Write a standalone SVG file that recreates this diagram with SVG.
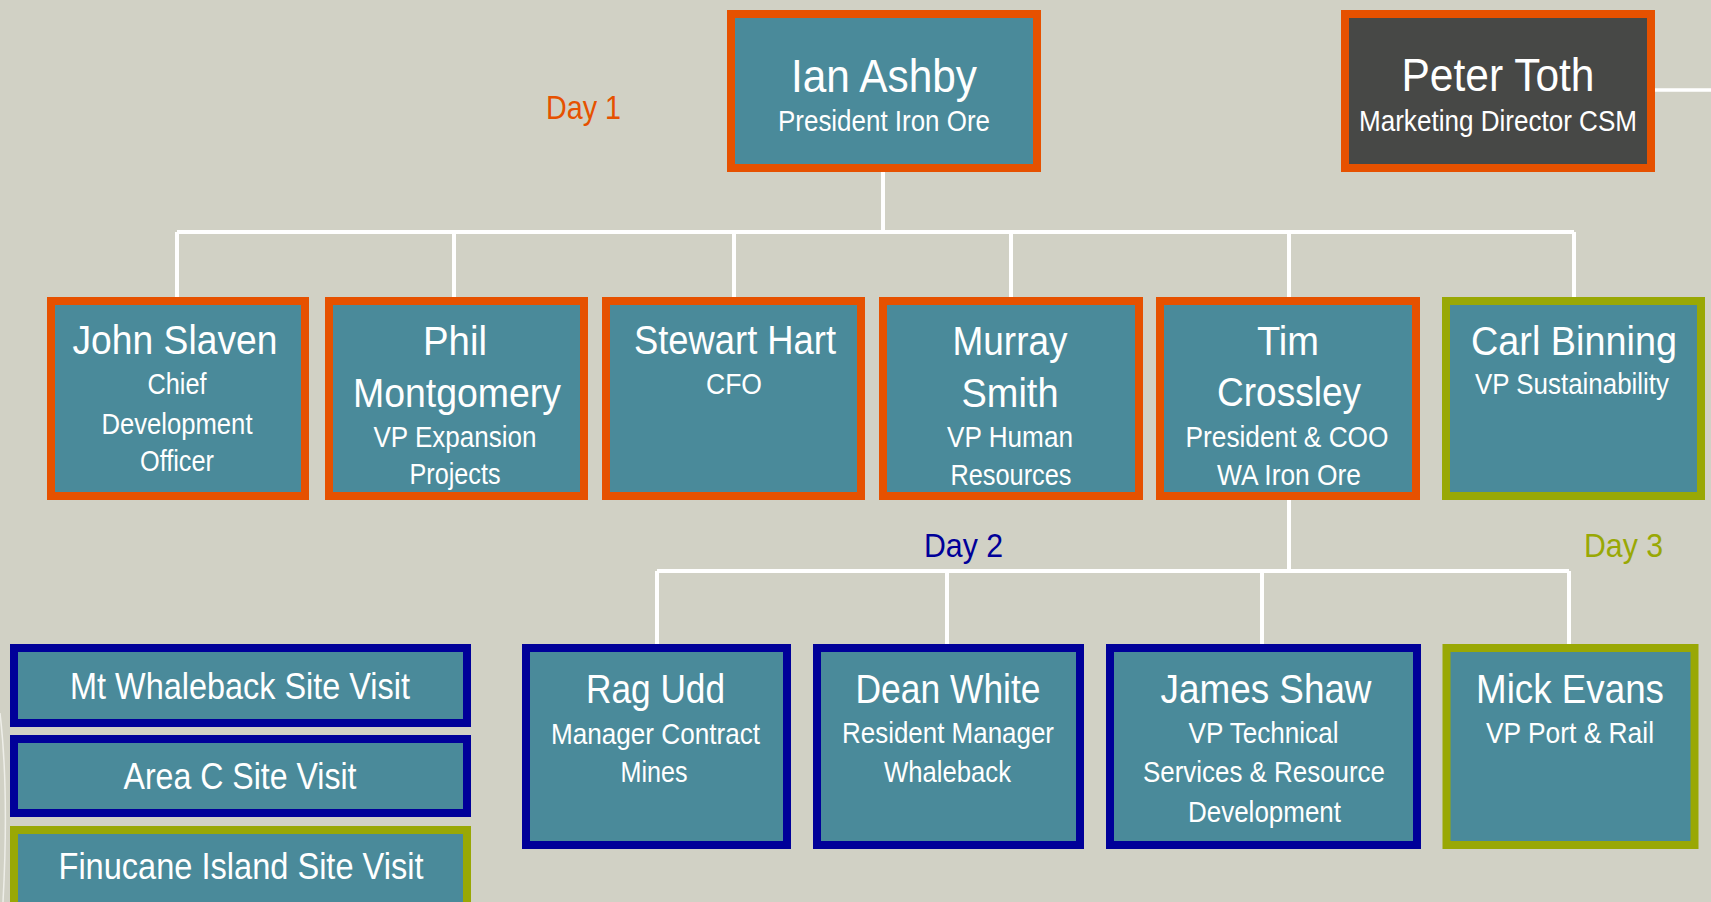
<svg xmlns="http://www.w3.org/2000/svg" width="1711" height="902" viewBox="0 0 1711 902">
<style>
.bg{fill:#D1D1C5}
.box{fill:#4A8A9A;stroke-width:8}
.o{stroke:#E65100}
.n{stroke:#000099}
.g{stroke:#99A805}
.dk{fill:#474846;stroke:#E65100;stroke-width:8}
text{font-family:"Liberation Sans",Arial,sans-serif;fill:#FFFFFF;text-anchor:middle}
.nm{font-size:41px}
.big{font-size:47px}
.sb{font-size:29px}
.sv{font-size:36px}
.day{font-size:34px;text-anchor:start}
.wire{stroke:#FFFFFF;stroke-width:4;fill:none}
</style>
<rect class="bg" x="0" y="0" width="1711" height="902"/>
<g id="connectors">
<path class="wire" d="M883,172 V232 M177,232 H1574 M177,232 V298 M454,232 V298 M734,232 V298 M1011,232 V298 M1289,232 V298 M1574,232 V298"/>
<path class="wire" d="M1289,500 V571 M657,571 H1569 M657,571 V645 M947,571 V645 M1262,571 V645 M1569,571 V645"/>
<path class="wire" style="stroke-width:3.5" d="M1655,90 H1711"/>
<path d="M0,713 Q9,790 3,902" stroke="#EEEEE8" stroke-width="1.5" fill="none"/>
</g>
<g id="day-labels">
<text class="day" x="546" y="119" fill="#E65100" style="fill:#E65100" textLength="75" lengthAdjust="spacingAndGlyphs">Day 1</text>
<text class="day" x="924" y="557" style="fill:#000099" textLength="79" lengthAdjust="spacingAndGlyphs">Day 2</text>
<text class="day" x="1584" y="557" style="fill:#99A805" textLength="79" lengthAdjust="spacingAndGlyphs">Day 3</text>
</g>
<g id="ian-ashby">
<rect class="box o" x="731" y="14" width="306" height="154"/>
<text class="big" x="884" y="92" textLength="186" lengthAdjust="spacingAndGlyphs">Ian Ashby</text>
<text class="sb" x="884" y="131" textLength="212" lengthAdjust="spacingAndGlyphs">President Iron Ore</text>
</g>
<g id="peter-toth">
<rect class="dk" x="1345" y="14" width="306" height="154"/>
<text class="big" x="1498" y="91" textLength="193" lengthAdjust="spacingAndGlyphs">Peter Toth</text>
<text class="sb" x="1498" y="131" textLength="278" lengthAdjust="spacingAndGlyphs">Marketing Director CSM</text>
</g>
<g id="john-slaven">
<rect class="box o" x="51" y="301" width="254" height="195"/>
<text class="nm" x="175" y="354" textLength="205" lengthAdjust="spacingAndGlyphs">John Slaven</text>
<text class="sb" x="177" y="394" textLength="59" lengthAdjust="spacingAndGlyphs">Chief</text>
<text class="sb" x="177" y="434" textLength="151" lengthAdjust="spacingAndGlyphs">Development</text>
<text class="sb" x="177" y="471" textLength="74" lengthAdjust="spacingAndGlyphs">Officer</text>
</g>
<g id="phil-montgomery">
<rect class="box o" x="329" y="301" width="255" height="195"/>
<text class="nm" x="455" y="355" textLength="64" lengthAdjust="spacingAndGlyphs">Phil</text>
<text class="nm" x="457" y="407" textLength="208" lengthAdjust="spacingAndGlyphs">Montgomery</text>
<text class="sb" x="455" y="447" textLength="163" lengthAdjust="spacingAndGlyphs">VP Expansion</text>
<text class="sb" x="455" y="484" textLength="91" lengthAdjust="spacingAndGlyphs">Projects</text>
</g>
<g id="stewart-hart">
<rect class="box o" x="606" y="301" width="255" height="195"/>
<text class="nm" x="735" y="354" textLength="202" lengthAdjust="spacingAndGlyphs">Stewart Hart</text>
<text class="sb" x="734" y="394" textLength="56" lengthAdjust="spacingAndGlyphs">CFO</text>
</g>
<g id="murray-smith">
<rect class="box o" x="883" y="301" width="256" height="195"/>
<text class="nm" x="1010" y="355" textLength="115" lengthAdjust="spacingAndGlyphs">Murray</text>
<text class="nm" x="1010" y="407" textLength="97" lengthAdjust="spacingAndGlyphs">Smith</text>
<text class="sb" x="1010" y="447" textLength="126" lengthAdjust="spacingAndGlyphs">VP Human</text>
<text class="sb" x="1011" y="485" textLength="121" lengthAdjust="spacingAndGlyphs">Resources</text>
</g>
<g id="tim-crossley">
<rect class="box o" x="1160" y="301" width="256" height="195"/>
<text class="nm" x="1288" y="355" textLength="62" lengthAdjust="spacingAndGlyphs">Tim</text>
<text class="nm" x="1289" y="406" textLength="144" lengthAdjust="spacingAndGlyphs">Crossley</text>
<text class="sb" x="1287" y="447" textLength="203" lengthAdjust="spacingAndGlyphs">President &amp; COO</text>
<text class="sb" x="1289" y="485" textLength="144" lengthAdjust="spacingAndGlyphs">WA Iron Ore</text>
</g>
<g id="carl-binning">
<rect class="box g" x="1446" y="301" width="255" height="195"/>
<text class="nm" x="1574" y="355" textLength="206" lengthAdjust="spacingAndGlyphs">Carl Binning</text>
<text class="sb" x="1572" y="394" textLength="194" lengthAdjust="spacingAndGlyphs">VP Sustainability</text>
</g>
<g id="rag-udd">
<rect class="box n" x="526" y="648" width="261" height="197"/>
<text class="nm" x="655.5" y="703" textLength="139" lengthAdjust="spacingAndGlyphs">Rag Udd</text>
<text class="sb" x="655.5" y="744" textLength="209" lengthAdjust="spacingAndGlyphs">Manager Contract</text>
<text class="sb" x="654" y="782" textLength="67" lengthAdjust="spacingAndGlyphs">Mines</text>
</g>
<g id="dean-white">
<rect class="box n" x="817" y="648" width="263" height="197"/>
<text class="nm" x="948" y="703" textLength="185" lengthAdjust="spacingAndGlyphs">Dean White</text>
<text class="sb" x="948" y="743" textLength="212" lengthAdjust="spacingAndGlyphs">Resident Manager</text>
<text class="sb" x="947.5" y="782" textLength="127" lengthAdjust="spacingAndGlyphs">Whaleback</text>
</g>
<g id="james-shaw">
<rect class="box n" x="1110" y="648" width="307" height="197"/>
<text class="nm" x="1266" y="703" textLength="211" lengthAdjust="spacingAndGlyphs">James Shaw</text>
<text class="sb" x="1263.5" y="743" textLength="150" lengthAdjust="spacingAndGlyphs">VP Technical</text>
<text class="sb" x="1264" y="782" textLength="242" lengthAdjust="spacingAndGlyphs">Services &amp; Resource</text>
<text class="sb" x="1264.5" y="822" textLength="153" lengthAdjust="spacingAndGlyphs">Development</text>
</g>
<g id="mick-evans">
<rect class="box g" x="1446.5" y="648" width="248" height="197"/>
<text class="nm" x="1570" y="703" textLength="188" lengthAdjust="spacingAndGlyphs">Mick Evans</text>
<text class="sb" x="1570" y="743" textLength="168" lengthAdjust="spacingAndGlyphs">VP Port &amp; Rail</text>
</g>
<g id="mt-whaleback-site-visit">
<rect class="box n" x="14" y="648" width="453" height="75"/>
<text class="sv" x="240" y="699" textLength="340" lengthAdjust="spacingAndGlyphs">Mt Whaleback Site Visit</text>
</g>
<g id="area-c-site-visit">
<rect class="box n" x="14" y="739" width="453" height="74"/>
<text class="sv" x="240" y="789" textLength="233" lengthAdjust="spacingAndGlyphs">Area C Site Visit</text>
</g>
<g id="finucane-island-site-visit">
<rect class="box g" x="14" y="830" width="453" height="100"/>
<text class="sv" x="241" y="879" textLength="365" lengthAdjust="spacingAndGlyphs">Finucane Island Site Visit</text>
</g>
</svg>
